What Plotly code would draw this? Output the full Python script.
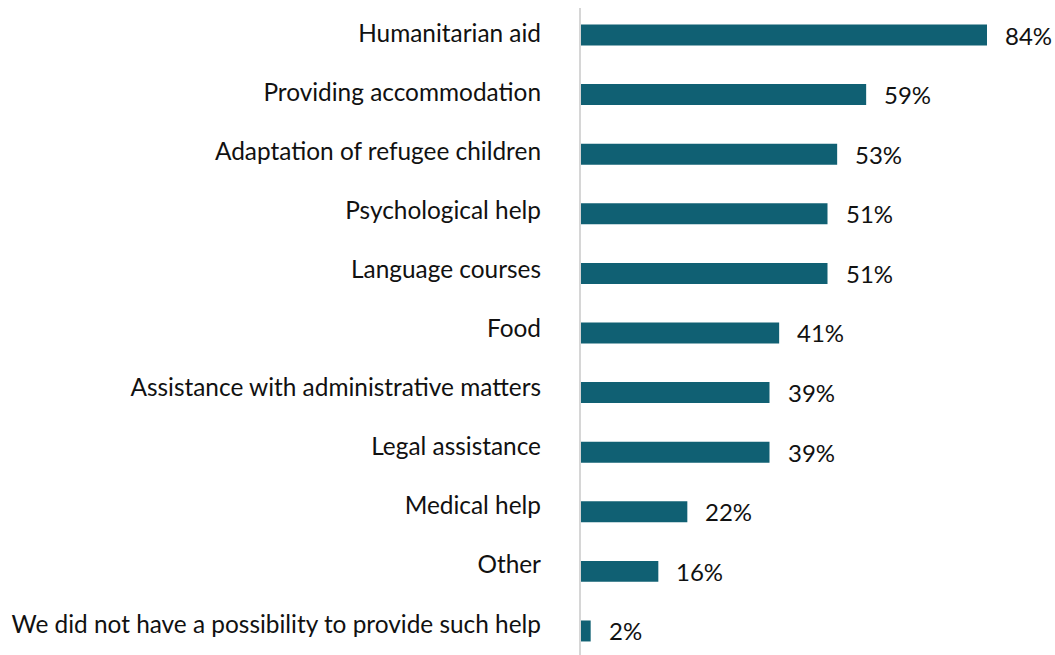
import plotly.graph_objects as go

categories = [
    "Humanitarian aid",
    "Providing accommodation",
    "Adaptation of refugee children",
    "Psychological help",
    "Language courses",
    "Food",
    "Assistance with administrative matters",
    "Legal assistance",
    "Medical help",
    "Other",
    "We did not have a possibility to provide such help",
]
values = [84, 59, 53, 51, 51, 41, 39, 39, 22, 16, 2]
value_labels = [f"{v}%" for v in values]

BAR_COLOR = "#106073"
FONT = "Lato"
FS = 24.4

fig = go.Figure()
fig.add_trace(go.Bar(
    x=values,
    y=categories,
    orientation="h",
    marker=dict(color=BAR_COLOR, line=dict(width=0)),
    width=0.352,
    hoverinfo="skip",
))
# invisible twin trace that carries the category labels on a second axis
fig.add_trace(go.Bar(
    x=values,
    y=categories,
    orientation="h",
    yaxis="y2",
    marker=dict(color="rgba(0,0,0,0)", line=dict(width=0)),
    width=0.352,
    hoverinfo="skip",
))

for v, c, t in zip(values, categories, value_labels):
    fig.add_annotation(
        x=v, y=c, text=t, xref="x", yref="y",
        xanchor="left", yanchor="middle", showarrow=False,
        xshift=16, yshift=0,
        font=dict(family=FONT, size=24, color="#111111"),
    )

fig.update_layout(
    width=1055, height=655,
    margin=dict(l=581, r=0, t=8, b=0, autoexpand=False),
    plot_bgcolor="white", paper_bgcolor="white",
    showlegend=False,
    barmode="overlay",
    font=dict(family=FONT, size=24, color="#111111"),
    yaxis2=dict(
        overlaying="y", side="left", anchor="x",
        categoryorder="array", categoryarray=categories,
        range=[10.524, -0.423],
        showgrid=False, zeroline=False, showline=False,
        ticks="", ticklabelstandoff=39,
        tickfont=dict(family=FONT, size=FS, color="#111111"),
    ),
)
fig.update_xaxes(range=[0, 98.07], visible=False, showgrid=False, zeroline=False)
fig.layout.yaxis.update(
    categoryorder="array", categoryarray=categories,
    range=[10.403, -0.453],
    showgrid=False, zeroline=False,
    showline=True, linecolor="#d6d6d6", linewidth=2,
    ticks="", showticklabels=False,
)

fig.write_html(
    "out.html",
    config={"displayModeBar": False},
    post_script="document.body.style.margin='0';document.body.style.overflow='hidden';",
)
